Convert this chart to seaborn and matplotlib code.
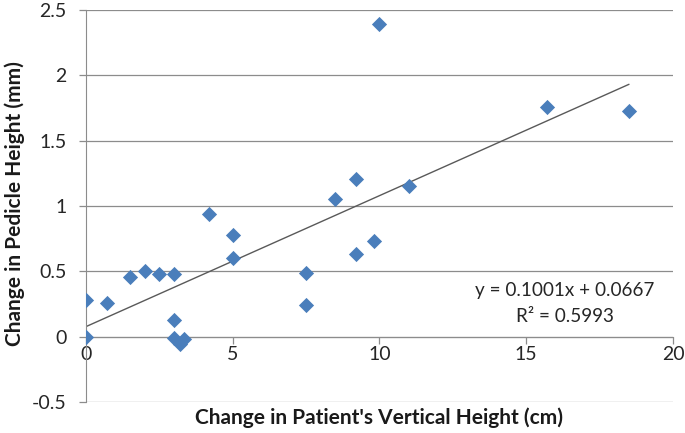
"""Scatter of pedicle height change vs patient vertical height change, with linear trendline."""
import matplotlib
matplotlib.use('Agg')
import matplotlib.pyplot as plt
import seaborn as sns
import pandas as pd

# values
height_change_cm = [0.0, 0.0, 0.7, 1.5, 2.0, 2.5, 3.0, 3.0, 3.0, 3.2, 3.35,
                    4.2, 5.0, 5.0, 7.5, 7.5, 8.5, 9.2, 9.2, 9.8, 10.0, 11.0,
                    15.7, 18.5]
pedicle_change_mm = [0.28, 0.0, 0.26, 0.46, 0.5, 0.48, 0.48, 0.13, -0.01, -0.06, -0.02,
                     0.94, 0.78, 0.60, 0.49, 0.245, 1.05, 1.21, 0.635, 0.73, 2.39, 1.15,
                     1.76, 1.73]
x_ticks = [0, 5, 10, 15, 20]
y_ticks = [-0.5, 0, 0.5, 1, 1.5, 2, 2.5]
y_tick_labels = ['-0.5', '0', '0.5', '1', '1.5', '2', '2.5']
equation_text = 'y = 0.1001x + 0.0667\nR² = 0.5993'

df = pd.DataFrame({'x': height_change_cm, 'y': pedicle_change_mm})

sns.set_style('white')
plt.rcParams['font.family'] = ['Lato', 'DejaVu Sans']

fig = plt.figure(figsize=(6.85, 4.33), dpi=100)
ax = fig.add_axes([0.1255, 0.0716, 0.857, 0.9054])

sns.regplot(data=df, x='x', y='y', ax=ax, ci=None, marker='D',
            scatter_kws={'s': 60, 'color': '#4a7ebb', 'linewidths': 0, 'alpha': 1, 'zorder': 3},
            line_kws={'color': '#595959', 'lw': 1, 'zorder': 2})

ax.set_xlim(0, 20)
ax.set_ylim(-0.5, 2.5)
ax.set_xticks(x_ticks)
ax.set_yticks(y_ticks)
ax.set_xticklabels([str(t) for t in x_ticks])
ax.set_yticklabels(y_tick_labels)

axis_gray = '#8c8c8c'
ax.yaxis.grid(True, color=axis_gray, lw=0.9)
ax.xaxis.grid(False)
ax.set_axisbelow(True)
for side in ['top', 'right']:
    ax.spines[side].set_visible(False)
ax.spines['bottom'].set_position(('data', 0))
ax.spines['bottom'].set_color(axis_gray)
ax.spines['left'].set_color(axis_gray)
ax.tick_params(axis='both', which='major', length=5, width=0.9, color=axis_gray,
               labelsize=14, labelcolor='#262626', direction='out')
ax.tick_params(axis='x', bottom=True, pad=2)
ax.tick_params(axis='y', left=True, pad=9)

ax.set_xlabel("Change in Patient's Vertical Height (cm)", fontsize=15, fontweight='bold',
              color='#1a1a1a')
ax.xaxis.set_label_coords(0.5, -0.015)
ax.set_ylabel('Change in Pedicle Height (mm)', fontsize=15, fontweight='bold', color='#1a1a1a')
ax.yaxis.set_label_coords(-0.104, 0.506)

ax.text(0.816, 0.251, equation_text, transform=ax.transAxes, ha='center', va='center',
        fontsize=13.6, color='#262626', linespacing=1.6, multialignment='center')

fig.savefig('out.png', dpi=100)
plt.close(fig)
